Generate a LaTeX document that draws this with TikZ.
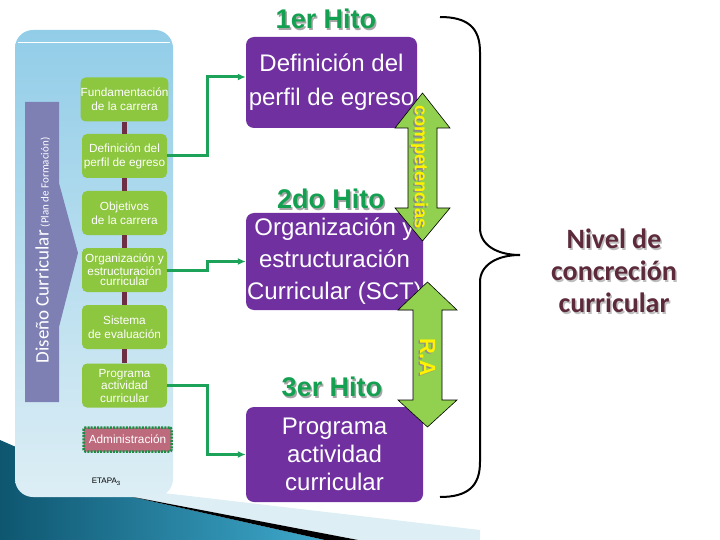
\documentclass[tikz,border=0pt]{standalone}
\usepackage{fontspec}
\setmainfont{Liberation Sans}
\newfontfamily\calfont{Carlito}
\usetikzlibrary{arrows.meta}

\definecolor{boxgreen}{HTML}{8DC63F}
\definecolor{arrowgreen}{HTML}{92D050}
\definecolor{hitopurple}{HTML}{7030A0}
\definecolor{hitogreen}{HTML}{13A050}
\definecolor{linkgreen}{HTML}{1DA25A}
\definecolor{barmaroon}{HTML}{6E2F45}
\definecolor{bandslate}{HTML}{7E80B4}
\definecolor{adminrose}{HTML}{BD6A7C}
\definecolor{admingreen}{HTML}{1E8C45}
\definecolor{nivelred}{HTML}{5C2A3A}
\definecolor{tealdark}{HTML}{0E5670}
\definecolor{teallight}{HTML}{3FA9CC}
\definecolor{paneltop}{HTML}{92CDE8}
\definecolor{panelbot}{HTML}{DDEEF5}

\newcommand\shadowed[2][black!35]{\makebox[0pt][l]{\kern1.5pt\raisebox{-1.5pt}{\textcolor{#1}{#2}}}#2}

\tikzset{
  greenbox/.style={rounded corners=5pt, fill=boxgreen, text=white, inner sep=0pt,
    minimum width=85, minimum height=44, align=center,
    font=\fontsize{11.8}{14}\selectfont},
  hitobox/.style={rounded corners=8pt, fill=hitopurple, text=white, inner sep=0pt,
    align=center},
  hitolabel/.style={text=hitogreen, font=\bfseries\fontsize{27}{27}\selectfont},
  admin/.style={rounded corners=2pt, fill=adminrose, draw=admingreen, line width=2.5,
    dash pattern=on 2pt off 1.2pt, text=white, minimum width=88, minimum height=24,
    inner sep=0pt, font=\fontsize{11.8}{14}\selectfont},
  enlace/.style={linkgreen, line width=3, -{Latex[length=8pt,width=7pt]}},
  dblarrow/.style={fill=arrowgreen, draw=black, line width=0.6},
  tag/.style={text=yellow, font=\bfseries\fontsize{18.5}{18.5}\selectfont}
}

\begin{document}
\begin{tikzpicture}[x=1pt,y=-1pt]
  \useasboundingbox (0,0) rectangle (720,540);
  % fondo inferior
  \shade[left color=tealdark, right color=teallight]
    (0,440) -- (128,496) -- (325,540) -- (0,540) -- cycle;
  \fill[panelbot] (128,496) -- (155,492) -- (480,530) -- (480,540) -- (358,540) -- cycle;
  \fill[black] (128,496) -- (358,540) -- (325,540) -- cycle;
  % panel izquierdo
  \shade[top color=paneltop, bottom color=panelbot, rounded corners=18pt]
    (15,30) rectangle (173,497);
  \draw[white, line width=1] (18,43) -- (170,43);
  \fill[bandslate] (25,102) rectangle (59,402)
    (59,183) -- (78,253) -- (59,327) -- cycle;
  \node[rotate=90, anchor=base, text=white, font=\calfont\fontsize{19}{19}\selectfont]
    (diseno) at (48.5,250.5) {Diseño Curricular\,{\fontsize{11}{11}\selectfont (Plan de Formación)}};

  \node[greenbox] (fund) at (124.5,99.5) {Fundamentación\\de la carrera};
  \node[greenbox] (perfil) at (124.5,156) {Definición del\\perfil de egreso};
  \node[greenbox] (obj) at (124.5,213) {Objetivos\\de la carrera};
  \node[greenbox, font=\fontsize{11.8}{10.7}\selectfont] (org) at (124.5,270)
    {Organización y\\estructuración\\curricular};
  \node[greenbox] (eval) at (124.5,327) {Sistema\\de evaluación};
  \node[greenbox, font=\fontsize{11.8}{12.5}\selectfont] (prog) at (124.5,385.5)
    {Programa\\actividad\\curricular};
  \foreach \a/\b in {fund/perfil, perfil/obj, obj/org, org/eval, eval/prog}
    \draw[barmaroon, line width=5] (\a) -- (\b);
  \node[admin] (adm) at (127.5,439.5) {Administración};
  \node[font=\fontsize{8}{8}\selectfont] (etapa) at (106,482)
    {ETAPA\raisebox{-1.5pt}{\fontsize{6}{6}\selectfont 3}};

  % hitos
  \node[hitolabel] (hito1) at (326,20) {\shadowed{1er Hito}};
  \node[hitolabel] (hito2) at (331,200) {\shadowed{2do Hito}};
  \node[hitolabel] (hito3) at (332,388) {\shadowed{3er Hito}};
  \node[hitobox, minimum width=171, minimum height=91,
    font=\fontsize{24}{34}\selectfont] (perfilH) at (331.5,82.5)
    {Definición del\\perfil de egreso};
  \node[hitobox, minimum width=177, minimum height=97,
    font=\fontsize{24}{32}\selectfont] (orgH) at (334.5,261.5)
    {Organización y\\estructuración\\Curricular (SCT)};
  \node[hitobox, minimum width=177, minimum height=95,
    font=\fontsize{24}{28}\selectfont] (progH) at (334.5,454.5)
    {Programa\\actividad\\curricular};

  \draw[enlace] (perfil.east) -- ++(40,0) |- ([yshift=5.5pt]perfilH.west);
  \draw[enlace] (org.east) -- ++(40,0) |- (orgH.west);
  \draw[enlace] (prog.east) -- ++(40,0) |- (progH.west);

  % flechas dobles
  \draw[dblarrow] (422.5,93) -- (450,128) -- (437,128) -- (437,208) -- (450,208)
    -- (422.5,241) -- (395,208) -- (408,208) -- (408,128) -- (395,128) -- cycle;
  \node[tag, rotate=-90] (comp) at (419,167) {\shadowed[black!45]{competencias}};
  \draw[dblarrow] (427.5,282) -- (457,310) -- (442,310) -- (442,400) -- (457,400)
    -- (427.5,427) -- (398,400) -- (413,400) -- (413,310) -- (398,310) -- cycle;
  \node[tag, rotate=-90, font=\bfseries\fontsize{22}{22}\selectfont] (ra) at (427,357)
    {\shadowed[black!45]{R.A}};

  % llave
  \draw[line width=2] (440,17) .. controls (468,17) and (480,28) .. (480,52)
    -- (480,228) .. controls (480,245) and (497,255) .. (520,255)
    .. controls (497,255) and (480,265) .. (480,282)
    -- (480,462) .. controls (480,486) and (468,497) .. (440,497);
  \node[text=nivelred, align=center, font=\calfont\bfseries\fontsize{28}{32}\selectfont]
    (nivel) at (614,272) {\shadowed[black!25]{Nivel de}\\\shadowed[black!25]{concreción}\\
    \shadowed[black!25]{curricular}};
\end{tikzpicture}
\end{document}
